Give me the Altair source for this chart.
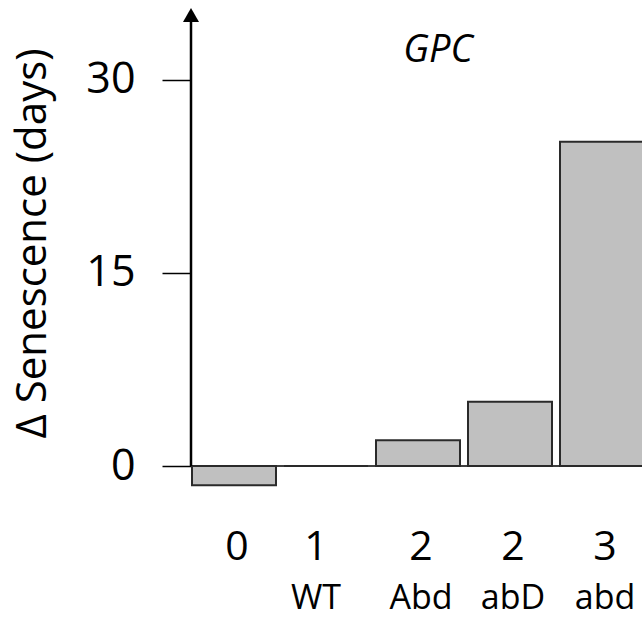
import altair as alt
import pandas as pd

# ---- data ----
counts = ["0", "1", "2", "2", "3"]
genotypes = ["", "WT", "Abd", "abD", "abd"]
values = [-1.5, 0.0, 2.0, 5.0, 25.2]
y_ticks = [0, 15, 30]
title_text = "GPC"
y_title = "\u0394 Senescence (days)"

keys = [f"{c} {g}".strip() for c, g in zip(counts, genotypes)]
df = pd.DataFrame({"key": keys, "count": counts, "geno": genotypes, "value": values})

FONT = "Open Sans"
W, H = 451, 490

xscale = alt.Scale(domain=keys, range=[1, 453], paddingInner=0.087, paddingOuter=0)
yscale = alt.Scale(domain=[-2.64, 35.43], nice=False, zero=False)

base = alt.Chart(df)

bars = base.mark_bar(
    color="#c0c0c0", stroke="#2a2a2a", strokeWidth=2, clip=True
).encode(
    x=alt.X("key:N", scale=xscale, axis=None, sort=keys),
    y=alt.Y(
        "value:Q",
        scale=yscale,
        axis=alt.Axis(
            values=y_ticks,
            grid=False,
            domain=False,
            tickSize=29,
            tickWidth=1.5,
            tickColor="black",
            labelFont=FONT,
            labelFontSize=43,
            labelColor="black",
            labelPadding=27,
            title=y_title,
            titleFont=FONT,
            titleFontSize=42,
            titleFontWeight="normal",
            titleColor="black",
            titleX=-146,
            titleY=233,
            titleAngle=270,
            titleBaseline="alphabetic",
            titleAlign="center",
        ),
    ),
    y2=alt.datum(0),
)

first = alt.datum.key == keys[0]

zero_line = base.mark_rule(color="black", strokeWidth=1.5).encode(
    y=alt.datum(0), x=alt.value(0), x2=alt.value(W)
).transform_filter(first)

axis_line = base.mark_rule(color="black", strokeWidth=2.5).encode(
    x=alt.value(0), y=alt.datum(0), y2=alt.value(5)
).transform_filter(first)

arrow = base.mark_point(
    shape="triangle-up", filled=True, size=256, color="black", opacity=1
).encode(x=alt.value(0), y=alt.value(5)).transform_filter(first)

gpc = base.mark_text(
    text=title_text, font=FONT, fontSize=38, fontStyle="italic", color="black",
    baseline="alphabetic", align="center"
).encode(x=alt.value(247), y=alt.value(52)).transform_filter(first)

is_wt = alt.datum.geno == "WT"


def label_row(field, size, ypos, dx, filt):
    return base.mark_text(
        font=FONT, fontSize=size, color="black", baseline="alphabetic",
        align="center", dx=dx
    ).encode(
        x=alt.X("key:N", scale=xscale, axis=None, sort=keys),
        y=alt.value(ypos),
        text=f"{field}:N",
    ).transform_filter(filt)


row1 = label_row("count", 41, 550, 3, ~is_wt)
row1_wt = label_row("count", 41, 550, -10, is_wt)
row2 = label_row("geno", 34, 599, 3, ~is_wt)
row2_wt = label_row("geno", 34, 599, -10, is_wt)

chart = alt.layer(
    zero_line, bars, axis_line, arrow, gpc, row1, row1_wt, row2, row2_wt
).properties(
    width=W,
    height=H,
    autosize=alt.AutoSizeParams(type="none"),
    padding={"left": 191, "top": 10, "right": 0, "bottom": 120},
    background="white",
).configure_view(stroke=None)

chart.save("out.html", embed_options={"renderer": "svg", "actions": False})
